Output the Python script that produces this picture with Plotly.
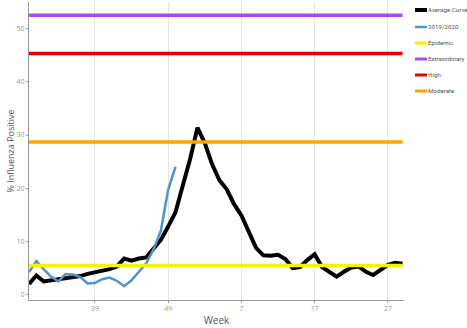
import plotly.graph_objects as go

# 周次: 第30周 -> 第52周, 再到次年第1周 -> 第29周
weeks = [str(w) for w in list(range(30, 53)) + list(range(1, 30))]

avg_curve = [
    2.0, 3.6, 2.5, 2.7, 2.9, 3.1, 3.3, 3.5, 3.9, 4.2,
    4.4, 4.8, 5.3, 6.8, 6.4, 6.8, 7.0, 8.7, 10.3, 12.8,
    15.5, 20.5, 25.5, 31.4, 28.5, 24.5, 21.5, 19.8, 17.0, 14.9,
    11.8, 8.8, 7.4, 7.3, 7.5, 6.7, 5.0, 5.2, 6.5, 7.6,
    5.2, 4.3, 3.4, 4.3, 5.1, 5.3, 4.3, 3.7, 4.6, 5.6,
    6.0, 5.8,
]
season_2019 = [
    4.2, 6.3, 4.8, 3.4, 2.5, 3.9, 3.8, 3.3, 2.1, 2.2,
    2.9, 3.2, 2.6, 1.6, 2.7, 4.3, 5.9, 8.5, 12.0, 19.7,
    24.0,
]

threshold_names = ["Epidemic", "Extraordinary", "High", "Moderate"]
threshold_values = [5.5, 52.5, 45.3, 28.7]
threshold_colors = ["#f5f500", "#a64de6", "#e60000", "#ffa500"]

series_names = ["Average Curve", "2019/2020"] + threshold_names
series_colors = ["#000000", "#4f94cd"] + threshold_colors
legend_widths = [4, 2.5, 3, 3, 3, 3]

W, H = 467, 328
L, R, T, B = 29, 63, 2, 28
pw, ph = W - L - R, H - T - B

fig = go.Figure()
fig.add_trace(go.Scatter(x=weeks, y=avg_curve, mode="lines", name="Average Curve",
                         line=dict(color="#000000", width=4)))
fig.add_trace(go.Scatter(x=weeks[:len(season_2019)], y=season_2019, mode="lines", name="2019/2020",
                         line=dict(color="#4f94cd", width=2.5)))
for name, val, col in zip(threshold_names, threshold_values, threshold_colors):
    fig.add_trace(go.Scatter(x=[weeks[0], weeks[-1]], y=[val, val], mode="lines", name=name,
                             line=dict(color=col, width=3.5)))

# 手绘图例 (短线条 + 文字)
legend_py = [10, 27, 43, 59, 75, 91]
for name, col, lw, py in zip(series_names, series_colors, legend_widths, legend_py):
    yp = (H - B - py) / ph
    fig.add_shape(type="line", xref="paper", yref="paper",
                  x0=(415 - L) / pw, x1=(427 - L) / pw, y0=yp, y1=yp,
                  line=dict(color=col, width=lw))
    fig.add_annotation(x=(428 - L) / pw, y=yp, xref="paper", yref="paper",
                       text=name, showarrow=False, xanchor="left", yanchor="middle",
                       xshift=-2, font=dict(family="Roboto", size=6.2, color="#555"))

fig.update_layout(
    width=W, height=H,
    margin=dict(l=L, r=R, t=T, b=B, autoexpand=False),
    plot_bgcolor="white", paper_bgcolor="white",
    showlegend=False,
    font=dict(family="Open Sans", color="#666"),
    xaxis=dict(
        type="category", categoryorder="array", categoryarray=weeks,
        range=[0, 51.2], automargin=False,
        tickvals=["39", "49", "7", "17", "27"],
        showgrid=True, gridcolor="#e4e4e4", gridwidth=1,
        showline=True, linecolor="#999", linewidth=1,
        ticks="outside", ticklen=2, tickcolor="#999",
        tickfont=dict(size=7, color="#999"),
        title=dict(text="Week", font=dict(size=10, color="#555"), standoff=4),
    ),
    yaxis=dict(
        range=[-1, 55], automargin=False,
        tickvals=[0, 10, 20, 30, 40, 50],
        showgrid=False, zeroline=False,
        showline=True, linecolor="#999", linewidth=1,
        ticks="outside", ticklen=2, tickcolor="#999",
        tickfont=dict(size=7, color="#999"),
        title=dict(text="% Influenza Positive", font=dict(size=9, color="#555"), standoff=0),
    ),
)

fig.write_html("out.html", config={"displayModeBar": False},
               post_script="document.body.style.margin='0';")
